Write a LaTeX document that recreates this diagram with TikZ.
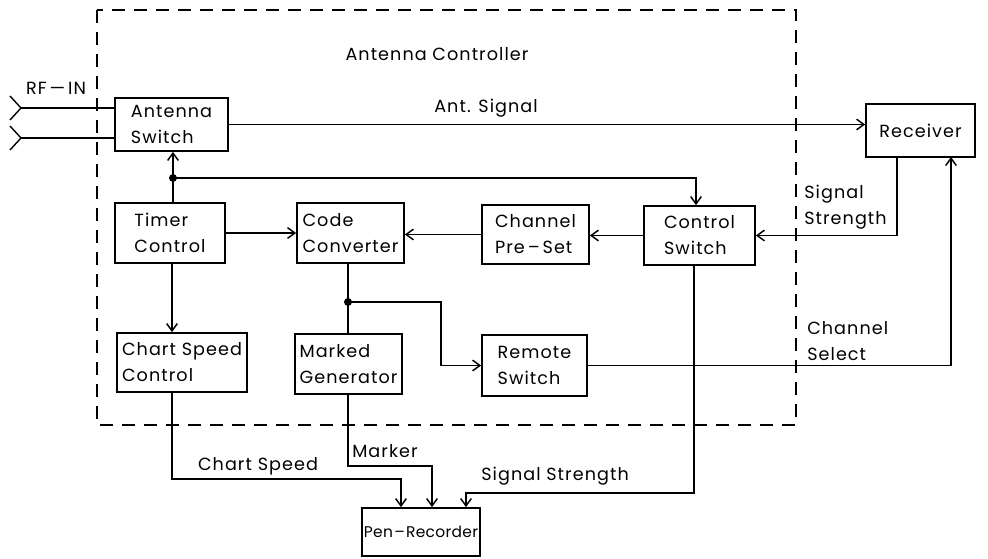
\documentclass[tikz,border=0pt]{standalone}
\usepackage{fontspec}
\setmainfont{Poppins}[LetterSpace=6]
\usetikzlibrary{arrows.meta,calc}
\newdimen\pxu \pxu=0.75pt
\tikzset{
  blk/.style={draw, line width=1.3pt, align=left, inner sep=2pt,
    font=\fontsize{13.2}{19.5}\selectfont},
  wire/.style={line width=1.05pt},
  sig/.style={wire, -{Straight Barb[length=5.5pt,width=8pt,line width=1.1pt]}},
  lbl/.style={font=\fontsize{13.2}{19.5}\selectfont, inner sep=0pt, align=left},
  jdot/.style={circle, fill, inner sep=0pt, minimum size=6pt},
  frame/.style={line width=1.2pt, dash pattern=on 10pt off 6.5pt},
}
\begin{document}
\begin{tikzpicture}[x=0.75pt, y=-0.75pt]
\useasboundingbox (0,0) rectangle (988,559);

% controller enclosure
\draw[frame] (97,10) rectangle (796,425);

% function blocks
\node[blk, minimum width=113\pxu, minimum height=53\pxu] (antsw)   at (171.5,124.5) {Antenna\\Switch};
\node[blk, minimum width=110\pxu, minimum height=60\pxu] (timer)   at (170,233)   {Timer\\Control};
\node[blk, minimum width=107\pxu, minimum height=60\pxu] (code)    at (350.5,233) {Code\\Converter};
\node[blk, minimum width=107\pxu, minimum height=59\pxu] (preset)  at (535.5,234.5) {Channel\\Pre\,–\,Set};
\node[blk, minimum width=111\pxu, minimum height=59\pxu] (ctrlsw)  at (699.5,235.5) {Control\\Switch};
\node[blk, minimum width=109\pxu, minimum height=53\pxu] (recv)    at (920.5,130.5) {Receiver};
\node[blk, minimum width=130\pxu, minimum height=59\pxu] (chart)   at (182,362.5) {Chart Speed\\Control};
\node[blk, minimum width=107\pxu, minimum height=60\pxu] (marked)  at (348.5,364) {Marked\\Generator};
\node[blk, minimum width=105\pxu, minimum height=61\pxu] (remote)  at (534.5,365.5) {Remote\\Switch};
\node[blk, minimum width=118\pxu, minimum height=48\pxu, inner sep=0pt,
      font=\fontsize{11.6}{19.5}\selectfont\addfontfeature{LetterSpace=2}] (pen) at (421,532) {Pen\kern1pt–\kern1pt Recorder};

% RF input connectors
\coordinate (rfa) at (21,108);
\coordinate (rfb) at (21,138);
\draw[wire] (10,96) -- (rfa) -- (10,120);
\draw[wire] (10,126) -- (rfb) -- (10,150);
\draw[wire] (rfa) -- (antsw.west |- rfa);
\draw[wire] (rfb) -- (antsw.west |- rfb);

% junctions and bend points
\node[jdot] (j1) at (173,178) {};
\node[jdot] (j2) at (348,302) {};
\coordinate (kr) at (441,302);
\coordinate (ssr) at (897,157);
\coordinate (csr) at (951,157);
\coordinate (cspd) at (172,479);
\coordinate (mrk) at (348,466);
\coordinate (sst) at (694,493);

% antenna signal to receiver
\draw[sig] (antsw.east) -- (antsw.east -| recv.west);

% timer bus
\draw[sig] (j1.center) -- (antsw.south -| j1);
\draw[wire] (j1.center) -- (timer.north -| j1);
\draw[sig] (j1.center) -| ($(ctrlsw.north)+(-3.5,0)$);

% code path
\draw[sig] (timer.east) -- (timer.east -| code.west);
\draw[sig] (ctrlsw.west) -- (ctrlsw.west -| preset.east);
\draw[sig] (preset.west) -- (preset.west -| code.east);
\draw[sig] (ssr) |- (ctrlsw.east);
\draw[sig] (timer.south -| cspd) -- (chart.north -| cspd);
\draw[wire] (code.south -| j2) -- (j2.center) -- (marked.north -| j2);
\draw[sig] (j2.center) -- (kr) |- (remote.west);
\draw[sig] (remote.east) -| (csr);

% outputs to the pen recorder
\draw[sig] (chart.south -| cspd) -- (cspd) -| ($(pen.north)+(-20,0)$);
\draw[sig] (marked.south -| mrk) -- (mrk) -| ($(pen.north)+(11,0)$);
\draw[sig] (ctrlsw.south -| sst) -- (sst) -| ($(pen.north)+(45,0)$);

% labels
\node[lbl] (rfin)  at (56,88)  {RF\,—\,IN};
\node[lbl] (title) at (437,54) {Antenna Controller};
\node[lbl] (antl)  at (486,108) {Ant. Signal};
\node[lbl, anchor=west] (ssl) at (804,207) {Signal\\Strength};
\node[lbl, anchor=west] (csl) at (807,341) {Channel\\Select};
\node[lbl] (cspl)  at (258,466) {Chart Speed};
\node[lbl, anchor=west] (mkl) at (352,451) {Marker};
\node[lbl, anchor=west] (ssl2) at (481,476) {Signal Strength};
\end{tikzpicture}
\end{document}
